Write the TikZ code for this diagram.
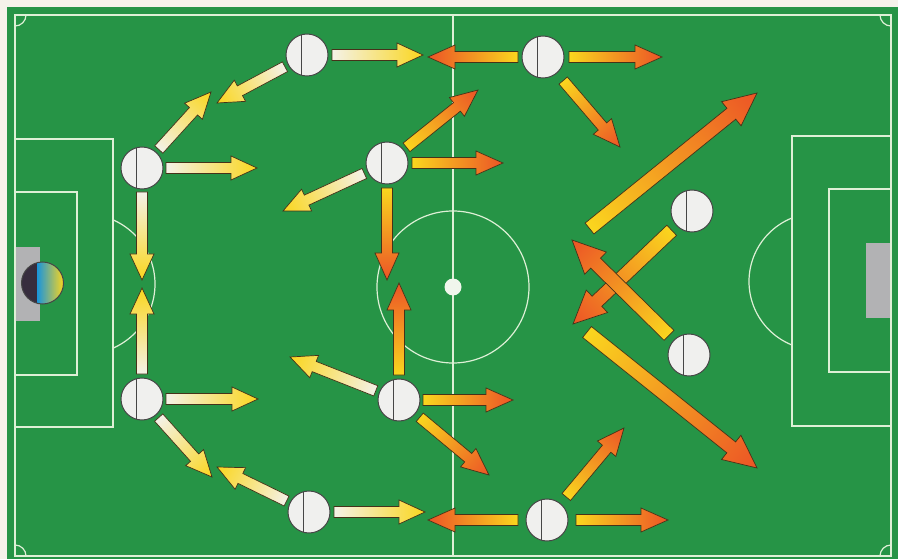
\documentclass[tikz,border=0pt]{standalone}
\usetikzlibrary{calc}
\definecolor{grass}{RGB}{38,148,70}
\definecolor{paper}{RGB}{245,242,234}
\definecolor{pline}{RGB}{222,240,214}
\definecolor{spot}{RGB}{240,246,236}
\definecolor{awhite}{RGB}{244,242,232}
\definecolor{ayellow}{RGB}{250,214,30}
\definecolor{aorange}{RGB}{236,84,38}
\definecolor{amid}{RGB}{247,160,32}
\definecolor{aline}{RGB}{70,50,25}
\definecolor{pfill}{RGB}{240,240,238}
\definecolor{pedge}{RGB}{70,70,70}
\definecolor{goalgray}{RGB}{178,178,180}
\definecolor{gkdark}{RGB}{55,45,62}
\definecolor{gkblue}{RGB}{30,150,215}
\tikzset{
  fieldline/.style={draw=pline,line width=1.2pt},
  player/.style={circle,minimum size=42pt,inner sep=0pt,draw=pedge,line width=1pt,fill=pfill,
    path picture={\draw[pedge,line width=1pt] ([xshift=-6pt]path picture bounding box.north) -- ([xshift=-6pt]path picture bounding box.south);}},
  goalbox/.style={fill=goalgray,draw=none},
}
% #1 from, #2 to, #3 start offset, #4 #5 #6 colours, #7 shaft half width, #8 head half width, #9 head length
\newcommand\FatArrow[9]{%
  \path let \p1=(#1), \p2=(#2) in \pgfextra{%
    \pgfmathsetmacro\FAdx{\x2-(\x1)}\pgfmathsetmacro\FAdy{\y2-(\y1)}%
    \pgfmathsetmacro\FAangl{atan2(\FAdy,\FAdx)}%
    \pgfmathsetmacro\FAlenl{veclen(\FAdx,\FAdy)}%
    \xdef\FAang{\FAangl}\xdef\FAlen{\FAlenl}\xdef\FAx{\x1}\xdef\FAy{\y1}};
  \begin{scope}[transform canvas={shift={(\FAx,\FAy)},rotate=\FAang}]
    \shade[left color=#4,middle color=#5,right color=#6,draw=aline,line width=0.7pt]
      (#3pt,-#7pt) -- ({\FAlen pt-#9pt},-#7pt) -- ({\FAlen pt-#9pt},-#8pt) -- (\FAlen pt,0pt)
      -- ({\FAlen pt-#9pt},#8pt) -- ({\FAlen pt-#9pt},#7pt) -- (#3pt,#7pt) -- cycle;
  \end{scope}}
\newcommand\WYarrow[3]{\FatArrow{#1}{#2}{#3}{awhite}{ayellow!55!awhite}{ayellow}{5.5}{12}{26}}
\newcommand\YOarrow[3]{\FatArrow{#1}{#2}{#3}{ayellow}{amid}{aorange}{5.5}{12}{27}}
\newcommand\BigYOarrow[3]{\FatArrow{#1}{#2}{#3}{ayellow}{amid}{aorange}{7}{15.5}{33}}
\begin{document}
\begin{tikzpicture}[x=1pt,y=-1pt]
\useasboundingbox (0,0) rectangle (898,559);
\fill[paper] (0,0) rectangle (898,559);
\fill[grass] (7,7) rectangle (898,559);
% goals
\fill[goalbox] (15,247) rectangle (40,321);
\fill[goalbox] (866,243) rectangle (891,318);
% field lines
\draw[fieldline] (15,15) rectangle (891,556);
\draw[fieldline] (453,15) -- (453,556);
\draw[fieldline] (453,287) circle (76);
\fill[spot] (453,287) circle (8.5);
\draw[fieldline] (15,139) -- (113,139) -- (113,427) -- (15,427);
\draw[fieldline] (15,192) -- (77,192) -- (77,375) -- (15,375);
\draw[fieldline] (891,136) -- (792,136) -- (792,426) -- (891,426);
\draw[fieldline] (891,189) -- (829,189) -- (829,372) -- (891,372);
\begin{scope}
  \clip (113,0) rectangle (300,559);
  \draw[fieldline] (85,284) circle (70);
\end{scope}
\begin{scope}
  \clip (600,0) rectangle (792,559);
  \draw[fieldline] (817.4,281.5) circle (68.4);
\end{scope}
\begin{scope}
  \clip (15,15) rectangle (891,556);
  \draw[fieldline] (15,15) circle (11);
  \draw[fieldline] (891,15) circle (11);
  \draw[fieldline] (15,556) circle (11);
  \draw[fieldline] (891,556) circle (11);
\end{scope}
% goalkeeper
\node[circle,minimum size=42pt,inner sep=0pt,draw=pedge,line width=1pt,
  path picture={
    \fill[gkdark] (path picture bounding box.south west) rectangle ([xshift=-5pt]path picture bounding box.north);
    \shade[left color=gkblue,right color=ayellow] ([xshift=-5pt]path picture bounding box.south) rectangle (path picture bounding box.north east);}]
  (gk) at (42.5,283) {};
% players
\node[player] (p1) at (142,168) {};
\node[player] (p2) at (142,399) {};
\node[player] (p3) at (307,55) {};
\node[player] (p4) at (543,57) {};
\node[player] (p5) at (387,163) {};
\node[player] (p6) at (692,211) {};
\node[player] (p7) at (689,355) {};
\node[player] (p8) at (399,400) {};
\node[player] (p9) at (309,512) {};
\node[player] (p10) at (547,520) {};
% arrow tips and free tails
\coordinate (ta) at (211,92);
\coordinate (tb) at (257,168);
\coordinate (tc) at (142,280);
\coordinate (td) at (142,288);
\coordinate (te) at (258,399);
\coordinate (tf) at (212,477);
\coordinate (tg) at (217,467);
\coordinate (th) at (425,512);
\coordinate (ti) at (217,103);
\coordinate (tj) at (423,55);
\coordinate (tp) at (283,211);
\coordinate (ts) at (290,357);
\coordinate (tk) at (428,57);
\coordinate (tl) at (662,57);
\coordinate (tm) at (620,147);
\coordinate (tn) at (478,90);
\coordinate (to) at (503,163);
\coordinate (tq) at (387,280);
\coordinate (tr) at (399,283);
\coordinate (tt) at (513,400);
\coordinate (tu) at (489,475);
\coordinate (tv) at (428,520);
\coordinate (tw) at (668,520);
\coordinate (tx) at (624,428);
\coordinate (sy) at (589.5,228.5);
\coordinate (ty) at (757,93);
\coordinate (tz) at (573,324);
\coordinate (taa) at (572,240);
\coordinate (sbb) at (587,332);
\coordinate (tbb) at (757,468);
% white to yellow arrows
\WYarrow{p1.center}{ta}{25}
\WYarrow{p1.center}{tb}{24}
\WYarrow{p1.center}{tc}{24}
\WYarrow{p2.center}{td}{25}
\WYarrow{p2.center}{te}{24}
\WYarrow{p2.center}{tf}{25}
\WYarrow{p9.center}{tg}{25}
\WYarrow{p9.center}{th}{25}
\WYarrow{p3.center}{ti}{25}
\WYarrow{p3.center}{tj}{25}
\WYarrow{p5.center}{tp}{25}
\WYarrow{p8.center}{ts}{25}
% yellow to orange arrows
\YOarrow{p4.center}{tk}{25}
\YOarrow{p4.center}{tl}{26}
\YOarrow{p4.center}{tm}{31}
\YOarrow{p5.center}{tn}{25}
\YOarrow{p5.center}{to}{25}
\YOarrow{p5.center}{tq}{25}
\YOarrow{p8.center}{tr}{25}
\YOarrow{p8.center}{tt}{24}
\YOarrow{p8.center}{tu}{27}
\YOarrow{p10.center}{tv}{29}
\YOarrow{p10.center}{tw}{29}
\YOarrow{p10.center}{tx}{30}
% big arrows
\BigYOarrow{sy}{ty}{0}
\BigYOarrow{p6.center}{tz}{28}
\BigYOarrow{p7.center}{taa}{28}
\BigYOarrow{sbb}{tbb}{0}
\end{tikzpicture}
\end{document}
